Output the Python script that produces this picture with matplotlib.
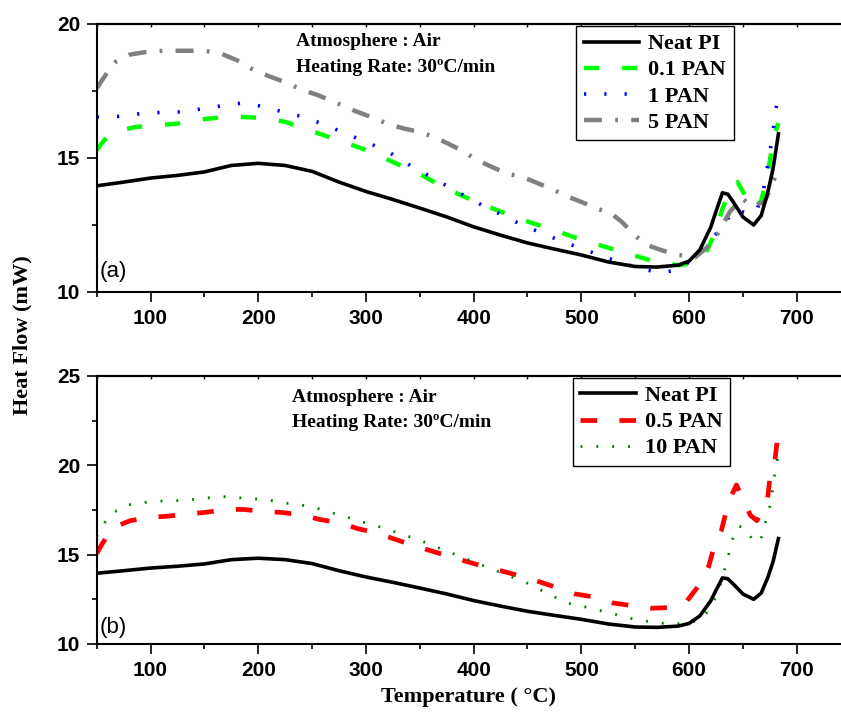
import matplotlib
matplotlib.use("Agg")
import matplotlib.pyplot as plt
from matplotlib.ticker import MultipleLocator

plt.rcParams['lines.scale_dashes'] = False

# Neat PI (same curve in both panels)
t_pi = [50, 75, 100, 125, 150, 175, 200, 225, 250, 275, 300, 325, 350, 375, 400, 425, 450, 475,
        500, 525, 550, 570, 590, 600, 610, 620, 625, 631, 636, 642, 650, 660, 667, 673, 678, 683]
hf_pi = [13.96, 14.1, 14.25, 14.35, 14.48, 14.72, 14.8, 14.72, 14.5, 14.1, 13.75, 13.45, 13.13, 12.8,
         12.43, 12.12, 11.83, 11.6, 11.38, 11.12, 10.95, 10.93, 11.0, 11.15, 11.57, 12.4, 13.0, 13.7,
         13.65, 13.3, 12.8, 12.5, 12.85, 13.7, 14.6, 15.9]

# 0.1 PAN
t_01 = [50, 57, 70, 85, 100, 125, 150, 175, 200, 225, 250, 275, 300, 325, 350, 375, 400, 425, 450,
        475, 500, 525, 550, 575, 592, 605, 617, 624, 631, 638, 645, 652, 660, 667, 673, 679, 683]
hf_01 = [15.3, 15.67, 16.0, 16.15, 16.2, 16.28, 16.45, 16.55, 16.5, 16.35, 16.0, 15.65, 15.3, 14.85,
         14.4, 13.85, 13.4, 13.0, 12.63, 12.3, 11.95, 11.65, 11.35, 11.05, 11.0, 11.1, 11.57, 12.2,
         13.1, 13.8, 14.1, 13.6, 13.1, 13.4, 14.4, 15.86, 16.3]

# 1 PAN
t_1 = [50, 70, 90, 110, 130, 150, 170, 185, 200, 220, 240, 260, 280, 300, 320, 340, 360, 380, 400,
       420, 440, 460, 480, 500, 520, 540, 560, 575, 590, 606, 621, 634, 642, 649, 656, 662, 669, 676,
       679, 682]
hf_1 = [16.53, 16.55, 16.65, 16.7, 16.72, 16.85, 16.97, 17.05, 16.95, 16.75, 16.55, 16.27, 15.93,
        15.6, 15.25, 14.75, 14.3, 13.85, 13.4, 13.0, 12.6, 12.25, 11.92, 11.62, 11.33, 11.05, 10.82,
        10.73, 10.82, 11.3, 11.97, 12.6, 13.1, 13.0, 12.9, 12.95, 13.77, 15.45, 16.3, 17.2]

# 5 PAN
t_5 = [50, 60, 68, 80, 95, 112, 130, 150, 165, 180, 195, 210, 227, 240, 255, 270, 290, 310, 320,
       335, 350, 362, 375, 392, 401, 415, 432, 445, 460, 475, 486, 500, 515, 527, 538, 550, 561, 575,
       590, 606, 616, 627, 638, 649, 658, 670, 676, 683]
hf_5 = [17.6, 18.2, 18.6, 18.85, 18.95, 19.0, 19.0, 19.0, 18.9, 18.65, 18.3, 18.05, 17.8, 17.55,
        17.35, 17.1, 16.75, 16.45, 16.27, 16.1, 15.97, 15.8, 15.56, 15.22, 14.96, 14.7, 14.4, 14.3,
        14.05, 13.8, 13.58, 13.36, 13.1, 12.95, 12.6, 12.1, 11.75, 11.55, 11.38, 11.3, 11.64, 12.2,
        13.0, 13.5, 13.2, 13.36, 13.9, 14.6]

# 0.5 PAN
t_05 = [50, 55, 65, 81, 101, 116, 137, 150, 172, 186, 208, 222, 242, 257, 278, 292, 311, 325, 350,
        375, 400, 425, 450, 480, 494, 515, 529, 552, 565, 587, 598, 612, 618, 624, 630, 637, 644,
        652, 657, 663, 669, 673, 676, 680, 683]
hf_05 = [15.06, 15.6, 16.5, 16.9, 17.1, 17.15, 17.3, 17.36, 17.53, 17.53, 17.4, 17.36, 17.2, 16.97,
         16.75, 16.46, 16.2, 15.9, 15.4, 14.95, 14.5, 14.1, 13.7, 13.1, 12.8, 12.6, 12.3, 12.1, 12.0,
         12.05, 12.4, 13.5, 14.3, 15.6, 16.35, 18.0, 18.9, 17.85, 17.2, 16.9, 17.6, 18.2, 19.7, 20.4,
         22.0]

# 10 PAN
t_10 = [50, 55, 63, 76, 91, 106, 120, 135, 150, 164, 179, 194, 209, 223, 238, 252, 267, 281, 295,
        309, 323, 337, 350, 375, 400, 425, 450, 486, 500, 515, 529, 543, 558, 571, 587, 601, 613,
        622, 628, 632, 636, 641, 646, 653, 660, 666, 669, 672, 676, 678, 680, 683]
hf_10 = [16.0, 16.6, 17.25, 17.75, 17.9, 18.0, 18.0, 18.07, 18.15, 18.26, 18.2, 18.13, 18.07, 17.9,
         17.8, 17.64, 17.36, 17.13, 16.85, 16.63, 16.35, 16.07, 15.8, 15.2, 14.6, 14.0, 13.4, 12.3,
         12.13, 11.9, 11.7, 11.46, 11.3, 11.18, 11.12, 11.18, 11.46, 12.25, 13.1, 13.93, 14.83, 16.0,
         16.6, 16.46, 15.7, 15.8, 16.2, 17.1, 17.9, 18.8, 19.7, 20.6]

serif_b = dict(family='Liberation Serif', weight='bold')

fig = plt.figure(figsize=(8.41, 7.13), dpi=100)
ax1 = fig.add_axes([0.115, 0.5905, 0.8964, 0.3759])
ax2 = fig.add_axes([0.115, 0.0968, 0.8964, 0.3759])


def style_axes(ax, ylo, yhi):
    ax.set_xlim(50, 750)
    ax.set_ylim(ylo, yhi)
    ax.xaxis.set_major_locator(MultipleLocator(100))
    ax.xaxis.set_minor_locator(MultipleLocator(50))
    ax.yaxis.set_major_locator(MultipleLocator(5))
    ax.yaxis.set_minor_locator(MultipleLocator(2.5))
    for s in ax.spines.values():
        s.set_linewidth(1.5)
    ax.tick_params(which='major', direction='out', length=7, width=1.2, pad=5)
    ax.tick_params(which='minor', direction='out', length=3.5, width=1.2)
    for lab in ax.get_xticklabels() + ax.get_yticklabels():
        lab.set_family('Liberation Sans')
        lab.set_weight('bold')
        lab.set_fontsize(15)
    top = ax.secondary_xaxis('top')
    top.xaxis.set_major_locator(MultipleLocator(50))
    top.tick_params(direction='in', length=2.5, width=1.0, labeltop=False)
    top.spines['top'].set_linewidth(1.5)


ax1.plot(t_pi, hf_pi, color='black', lw=2.6, label='Neat PI', zorder=5)
ax1.plot(t_01, hf_01, color='#00ff00', lw=3.2, dashes=(11, 16.5), label='0.1 PAN')
ax1.plot(t_1, hf_1, color='#0000ff', lw=2.6, dashes=(1.6, 13), label='1 PAN')
ax1.plot(t_5, hf_5, color='#808080', lw=3.2, dashes=(13, 9.5, 2, 9.5), label='5 PAN')
style_axes(ax1, 10, 20)

ax2.plot(t_pi, hf_pi, color='black', lw=2.6, label='Neat PI', zorder=5)
ax2.plot(t_05, hf_05, color='#ff0000', lw=3.4, dashes=(12, 16), label='0.5 PAN')
ax2.plot(t_10, hf_10, color='#008000', lw=2.0, dashes=(1.4, 10), label='10 PAN')
style_axes(ax2, 10, 25)

for ax, anchor in ((ax1, (0.685, 0.9635)), (ax2, (0.681, 0.470))):
    leg = ax.legend(loc='upper left', bbox_to_anchor=anchor, bbox_transform=fig.transFigure,
                    prop=dict(family='Liberation Serif', weight='bold', size=16),
                    frameon=True, fancybox=False, framealpha=1, edgecolor='black',
                    handlelength=2.5, handletextpad=0.4, labelspacing=0.25, borderpad=0.35,
                    borderaxespad=0)
    leg.get_frame().set_linewidth(1.0)

fig.text(296 / 841, 1 - 42 / 713, 'Atmosphere : Air', va='center', ha='left', fontsize=14, **serif_b)
fig.text(296 / 841, 1 - 68 / 713, 'Heating Rate: 30\u00baC/min', va='center', ha='left',
         fontsize=14, **serif_b)
fig.text(292 / 841, 1 - 397 / 713, 'Atmosphere : Air', va='center', ha='left', fontsize=14, **serif_b)
fig.text(292 / 841, 1 - 423 / 713, 'Heating Rate: 30\u00baC/min', va='center', ha='left',
         fontsize=14, **serif_b)

fig.text(100 / 841, 1 - 272 / 713, '(a)', va='center', ha='left', fontsize=16,
         family='Liberation Sans')
fig.text(100 / 841, 1 - 628 / 713, '(b)', va='center', ha='left', fontsize=16,
         family='Liberation Sans')

fig.text(22 / 841, 1 - 335 / 713, 'Heat Flow (mW)', rotation=90, va='center', ha='center',
         fontsize=16, **serif_b)
fig.text(468 / 841, 1 - 697 / 713, 'Temperature ( \u00b0C)', va='center', ha='center',
         fontsize=16, **serif_b)

fig.savefig('out.png', dpi=100)
